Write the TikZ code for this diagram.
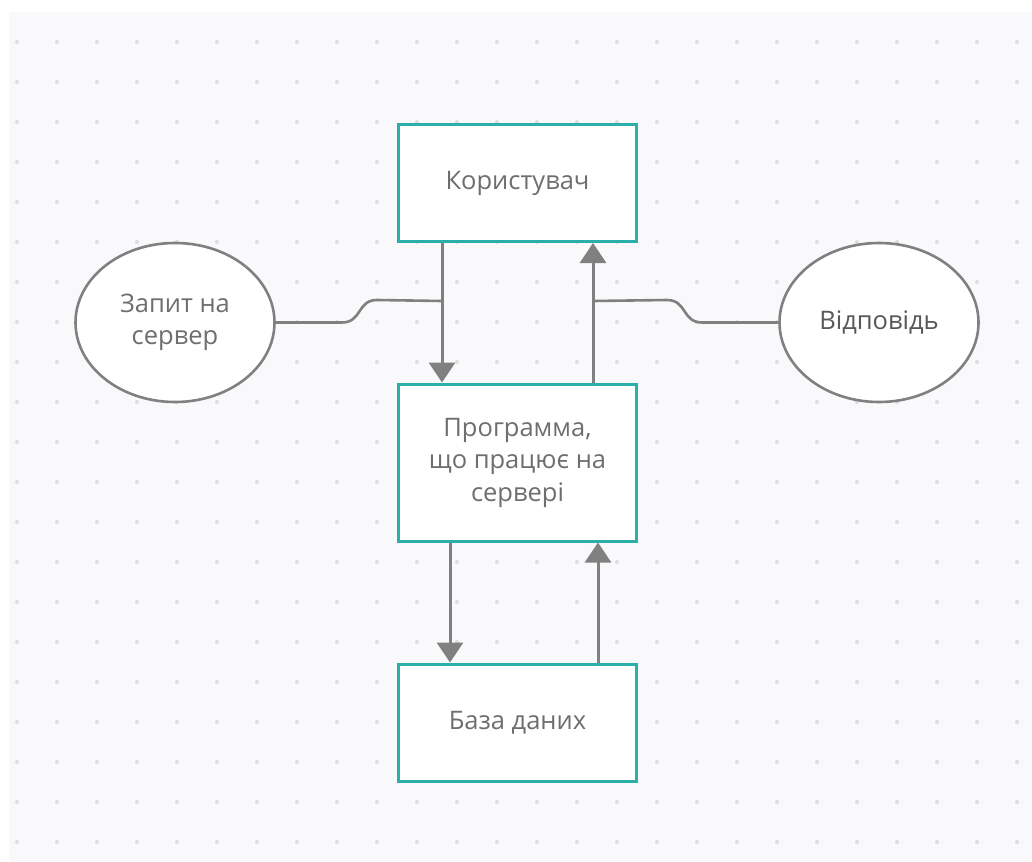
\documentclass[tikz,border=0pt]{standalone}
\usepackage{fontspec}
\setmainfont{Open Sans}
\usetikzlibrary{arrows.meta,positioning,shapes.geometric,calc}
\definecolor{tealline}{HTML}{2AAFAA}
\definecolor{linkgray}{HTML}{808080}
\definecolor{textgray}{HTML}{6E6E6E}
\definecolor{darkgray}{HTML}{585858}
\definecolor{canvas}{HTML}{F9F9FB}
\definecolor{dotgray}{HTML}{DCDCDE}

\begin{document}
\begin{tikzpicture}[x=1pt,y=-1pt,
  block/.style={draw=tealline,line width=3pt,fill=white,minimum width=238pt,minimum height=117pt,
    align=center,text=textgray,font=\fontsize{25.5}{32.5}\selectfont},
  bubble/.style={ellipse,draw=linkgray,line width=2.6pt,fill=white,minimum width=199pt,minimum height=159pt,
    inner sep=0pt,align=center,text=textgray,font=\fontsize{25.5}{32.5}\selectfont},
  flow/.style={draw=linkgray,line width=3pt,-{Triangle[length=20pt,width=26pt]}},
  link/.style={draw=linkgray,line width=2.6pt}]
\useasboundingbox (0,0) rectangle (1032,861);
\fill[canvas] (9,12) rectangle (1032,861);
\foreach \i in {0,...,25}
  \foreach \j in {0,...,20}
    \fill[dotgray] (17+40*\i,42+40*\j) circle (2pt);
% nodes
\node[block] (user) at (517.5,183) {Користувач};
\node[block,minimum height=157pt] (prog) at (517.5,462.5) {Программа,\\що працює на\\сервері};
\node[block] (db) at (517.5,722.5) {База даних};
\node[bubble] (req) at (175,322.5) {Запит на\\сервер};
\node[bubble,text=darkgray] (resp) at (879,322.5) {Відповідь};
% arrows
\draw[flow] ([xshift=-75.5pt]user.south) -- ([xshift=-75.5pt]prog.north);
\draw[flow] ([xshift=75.5pt]prog.north) -- ([xshift=75.5pt]user.south);
\draw[flow] ([xshift=-67.5pt]prog.south) -- ([xshift=-67.5pt]db.north);
\draw[flow] ([xshift=80.5pt]db.north) -- ([xshift=80.5pt]prog.south);
% side links
\coordinate (jl) at ($(user.south)+(-75.5,58)$);
\coordinate (jr) at ($(user.south)+(75.5,58)$);
\draw[link] (req.east) -- (342,322.5) .. controls (362,322.5) and (357,300) .. (377,300) -- (jl);
\draw[link] (jr) -- (667,300) .. controls (687,300) and (682,322.5) .. (702,322.5) -- (resp.west);
\end{tikzpicture}
\end{document}
